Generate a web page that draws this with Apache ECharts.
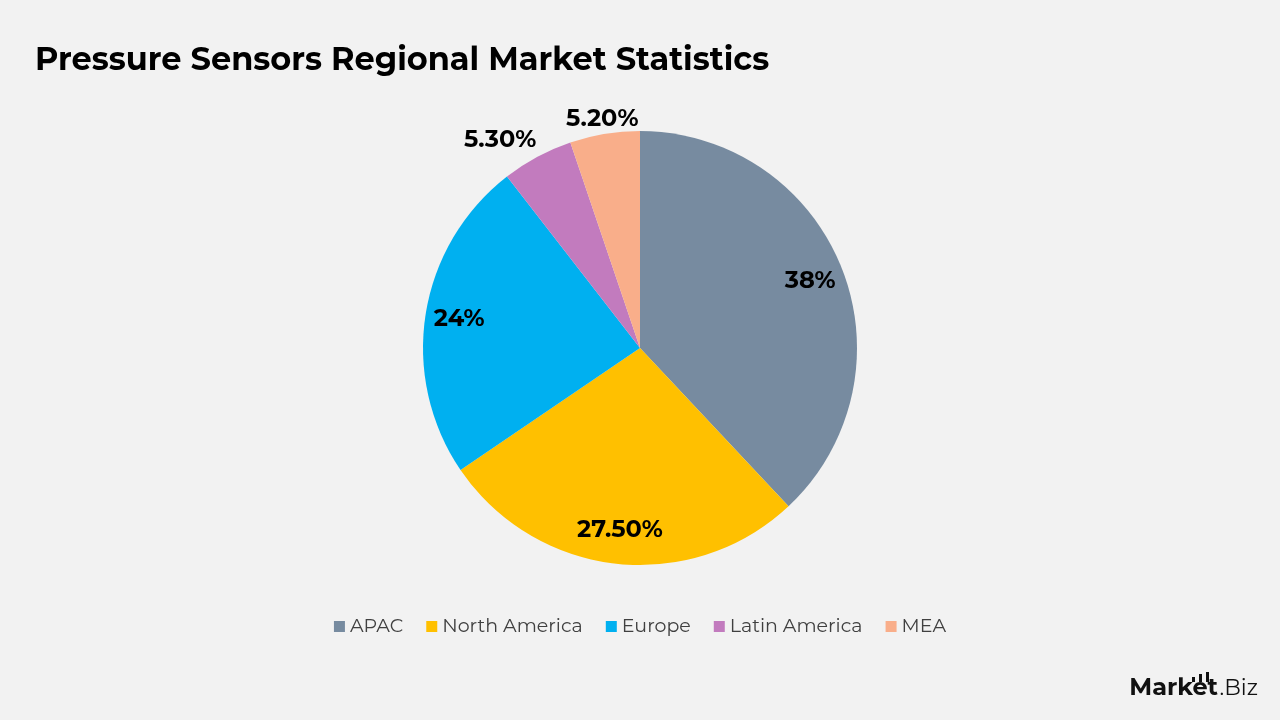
<!DOCTYPE html>
<html lang="en">
<head>
    <meta charset="UTF-8">
    <title>Pressure Sensors Regional Market Statistics</title>
    <style>
        html, body { margin: 0; padding: 0; background: #f2f2f2; }
    </style>
</head>
<body>
<div id="chart_pie" style="width:1280px;height:720px;"></div>

<script src="https://cdn.jsdelivr.net/npm/echarts@6/dist/echarts.min.js"></script>
<script type="text/javascript">

    var regions = ['APAC', 'North America', 'Europe', 'Latin America', 'MEA'];
    var shares = [38, 27.5, 24, 5.3, 5.2];
    var shareLabels = ['38%', '27.50%', '24%', '5.30%', '5.20%'];
    var colors = ['#778ba0', '#ffc000', '#00b0f0', '#c27bbe', '#f9ae8a'];

    var fontName = 'Montserrat, "Open Sans", Lato, sans-serif';

    var myChart = echarts.init(document.getElementById('chart_pie'));

    // small slices get their label just outside the rim
    var isSmall = function (v) { return v < 10; };

    function buildData(inner) {
        var out = [];
        for (var i = 0; i < regions.length; i++) {
            var showIt = inner ? !isSmall(shares[i]) : isSmall(shares[i]);
            out.push({
                name: regions[i],
                value: shares[i],
                itemStyle: {color: 'transparent'},
                label: {show: showIt, formatter: shareLabels[i]}
            });
        }
        return out;
    }

    var pieData = [];
    for (var i = 0; i < regions.length; i++) {
        pieData.push({name: regions[i], value: shares[i], itemStyle: {color: colors[i]}});
    }

    var labelStyle = {
        position: 'inside',
        color: '#000',
        fontFamily: fontName,
        fontWeight: 'bold',
        fontSize: 24
    };

    var option_pie = {
        backgroundColor: '#f2f2f2',
        title: {
            text: 'Pressure Sensors Regional Market Statistics',
            left: 30,
            top: 40,
            textStyle: {
                color: '#000',
                fontFamily: fontName,
                fontWeight: 'bold',
                fontSize: 32
            }
        },
        legend: {
            data: regions,
            bottom: 79,
            left: 'center',
            itemWidth: 11,
            itemHeight: 11,
            itemGap: 23,
            icon: 'rect',
            textStyle: {
                color: '#404040',
                fontFamily: fontName,
                fontSize: 19
            }
        },
        series: [
            {
                name: 'Share',
                type: 'pie',
                center: [640, 348],
                radius: 217,
                startAngle: 90,
                clockwise: true,
                silent: true,
                label: {show: false},
                labelLine: {show: false},
                data: pieData
            },
            {
                name: 'inner labels',
                type: 'pie',
                center: [640, 348],
                radius: [143, 217],
                startAngle: 90,
                silent: true,
                legendHoverLink: false,
                label: labelStyle,
                labelLine: {show: false},
                data: buildData(true)
            },
            {
                name: 'outer labels',
                type: 'pie',
                center: [640, 348],
                radius: [217, 241],
                startAngle: 90,
                silent: true,
                legendHoverLink: false,
                label: labelStyle,
                labelLine: {show: false},
                labelLayout: function (params) {
                    // Latin America label sits a bit further left
                    if (params.dataIndex === 3) {
                        return {dx: -30, dy: -4};
                    }
                    return {};
                },
                data: buildData(false)
            }
        ],
        graphic: [
            {type: 'text', right: 62, bottom: 20,
                style: {text: 'Market', fill: '#111', font: 'bold 24px ' + fontName}},
            {type: 'text', right: 22, bottom: 20,
                style: {text: '.Biz', fill: '#111', font: '22px ' + fontName}},
            {type: 'rect', shape: {x: 1192, y: 677, width: 3, height: 5}, style: {fill: '#111'}},
            {type: 'rect', shape: {x: 1199, y: 674, width: 3, height: 8}, style: {fill: '#111'}},
            {type: 'rect', shape: {x: 1206, y: 672, width: 3, height: 10}, style: {fill: '#111'}}
        ]
    };

    myChart.setOption(option_pie, true);
</script>

</body>
</html>
